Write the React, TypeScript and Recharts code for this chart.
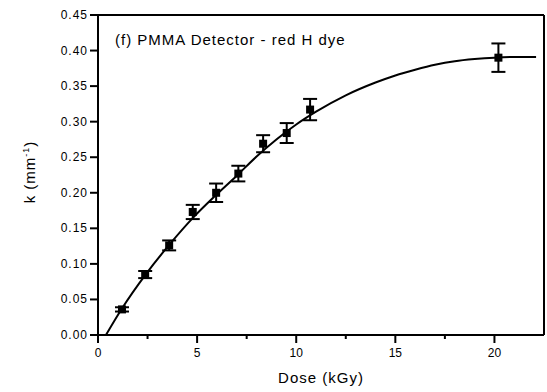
import { ComposedChart, Scatter, Line, XAxis, YAxis, ErrorBar, ReferenceLine } from 'recharts';

const doseData = [1.21, 2.38, 3.59, 4.78, 5.96, 7.08, 8.33, 9.52, 10.7, 20.2];
const kData = [0.036, 0.085, 0.126, 0.173, 0.2, 0.227, 0.269, 0.284, 0.317, 0.39];
const kErr = [0.003, 0.005, 0.007, 0.01, 0.013, 0.011, 0.012, 0.014, 0.015, 0.02];

const fitDose = [0.4, 1.2, 2.4, 3.6, 4.8, 6, 7, 8, 9, 10, 11, 12.5, 14, 15, 16, 17, 18, 19, 20, 21, 22.1];
const fitK = [0, 0.037, 0.085, 0.127, 0.165, 0.198, 0.224, 0.251, 0.275, 0.296, 0.314, 0.337, 0.355, 0.365, 0.373, 0.38, 0.385, 0.388, 0.39, 0.391, 0.391];

const xTicks = [0, 2.5, 5, 7.5, 10, 12.5, 15, 17.5, 20];
const yTicks = [0, 0.025, 0.05, 0.075, 0.1, 0.125, 0.15, 0.175, 0.2, 0.225, 0.25, 0.275, 0.3, 0.325, 0.35, 0.375, 0.4, 0.425, 0.45];

const points = doseData.map((d, i) => ({ x: d, y: kData[i], err: kErr[i] }));
const fit = fitDose.map((d, i) => ({ x: d, y: fitK[i] }));

const font = '"Liberation Sans", Arial, sans-serif';

const XTick = (props: any) => {
  const { x, y, payload } = props;
  const major = payload.value % 5 === 0;
  return (
    <g>
      <line x1={x} y1={y} x2={x} y2={y + (major ? 8 : 4)} stroke="#000" strokeWidth={2} />
      {major && (
        <text x={x} y={y + 22} textAnchor="middle" fontSize={12} fontFamily={font} fill="#000">
          {payload.value}
        </text>
      )}
    </g>
  );
};

const YTick = (props: any) => {
  const { x, y, payload } = props;
  const major = Math.round(payload.value * 1000) % 50 === 0;
  return (
    <g>
      <line x1={x} y1={y} x2={x - (major ? 8 : 4)} y2={y} stroke="#000" strokeWidth={2} />
      {major && (
        <text x={x - 10} y={y + 4} textAnchor="end" fontSize={12} letterSpacing={1} fontFamily={font} fill="#000">
          {payload.value.toFixed(2)}
        </text>
      )}
    </g>
  );
};

const Square = (props: any) => {
  const { cx, cy } = props;
  return <rect x={cx - 4} y={cy - 4} width={8} height={8} fill="#000" />;
};

export default function App() {
  return (
    <div style={{ position: 'absolute', left: 0, top: 0, width: 547, height: 392, background: '#fff' }}>
      <ComposedChart width={547} height={392} margin={{ top: 15, right: 3, left: 0, bottom: 0 }}>
        <XAxis
          type="number"
          dataKey="x"
          domain={[0, 22.5]}
          ticks={xTicks}
          allowDataOverflow
          height={57}
          tickSize={0}
          tickMargin={0}
          tick={<XTick />}
          axisLine={{ stroke: '#000', strokeWidth: 2 }}
          label={{ value: 'Dose  (kGy)', position: 'insideBottom', offset: 9, fontSize: 15, letterSpacing: 1, fontFamily: font, fill: '#000' }}
        />
        <YAxis
          type="number"
          dataKey="y"
          domain={[0, 0.45]}
          ticks={yTicks}
          allowDataOverflow
          width={98}
          tickSize={0}
          tickMargin={0}
          tick={<YTick />}
          axisLine={{ stroke: '#000', strokeWidth: 2 }}
        />
        <ReferenceLine y={0.45} stroke="#000" strokeWidth={2} />
        <ReferenceLine x={22.5} stroke="#000" strokeWidth={2} />
        <Line data={fit} dataKey="y" type="monotone" stroke="#000" strokeWidth={2} dot={false} isAnimationActive={false} />
        <Scatter data={points} dataKey="y" shape={<Square />} isAnimationActive={false}>
          <ErrorBar dataKey="err" direction="y" width={7} stroke="#000" strokeWidth={2} />
        </Scatter>
      </ComposedChart>
      <div style={{ position: 'absolute', left: 115, top: 31, fontFamily: font, fontSize: 15, letterSpacing: 1, color: '#000', whiteSpace: 'nowrap' }}>
        (f) PMMA Detector - red H dye
      </div>
      <svg style={{ position: 'absolute', left: 0, top: 0 }} width={60} height={392}>
        <text transform="translate(35,172) rotate(-90)" textAnchor="middle" fontSize={15} letterSpacing={1} fontFamily={font} fill="#000">
          k (mm<tspan dy={-6} fontSize={9}>-1</tspan><tspan dy={6}>)</tspan>
        </text>
      </svg>
    </div>
  );
}
